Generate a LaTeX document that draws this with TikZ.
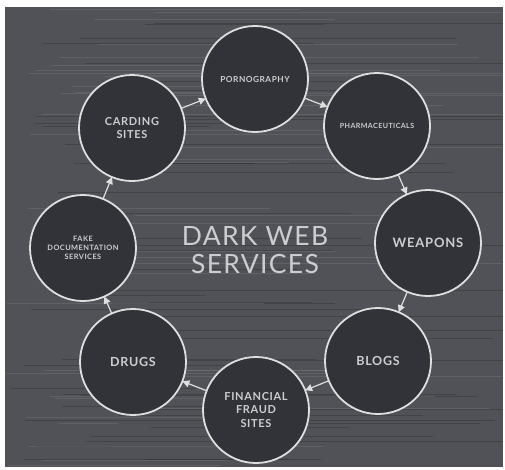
\documentclass[tikz,border=0pt]{standalone}
\usepackage{fontspec}
\usetikzlibrary{arrows.meta}
\setmainfont{Lato}
\newfontfamily\labfont[LetterSpace=6]{Lato}
\newfontfamily\titlefont[LetterSpace=5]{Lato}
\definecolor{bgcol}{RGB}{80,82,88}
\definecolor{circfill}{RGB}{50,51,56}
\definecolor{ringcol}{RGB}{222,222,222}
\definecolor{txtcol}{RGB}{205,205,208}
\tikzset{
  svc/.style={circle, draw=ringcol, line width=1.8pt, fill=circfill,
    minimum size=106pt, inner sep=0pt, outer sep=0pt, text=txtcol,
    align=center, font=\labfont\bfseries},
  flow/.style={draw=ringcol, line width=1.2pt,
    -{Triangle[width=7pt,length=7pt]}},
  streak/.style={line width=0.7pt}
}
\begin{document}
\begin{tikzpicture}[x=1pt,y=-1pt]
\useasboundingbox (0,0) rectangle (505,469);
\fill[white] (0,0) rectangle (505,469);
\fill[bgcol] (5,7) rectangle (503,467);
% background streaks
\pgfmathsetseed{11}
\foreach \i in {1,...,90}{
  \pgfmathsetmacro{\yy}{9+random(0,456)}
  \pgfmathsetmacro{\xa}{5+random(0,150)}
  \pgfmathsetmacro{\xb}{\xa+random(150,500)}
  \pgfmathsetmacro{\xc}{min(\xb,503)}
  \pgfmathsetmacro{\sh}{random(0,1)}
  \ifnum\sh=0
    \draw[streak, black!60!bgcol, opacity=0.3] (\xa,\yy) -- (\xc,\yy);
  \else
    \draw[streak, white!35!bgcol, opacity=0.25] (\xa,\yy) -- (\xc,\yy);
  \fi
}
\node[svc, font=\labfont\bfseries\fontsize{8.3}{9}\selectfont] (porn) at (255,79) {PORNOGRAPHY};
\node[svc, font=\labfont\bfseries\fontsize{7.1}{8}\selectfont] (pharma) at (377,126) {PHARMACEUTICALS};
\node[svc, font=\labfont\bfseries\fontsize{13}{15}\selectfont] (weap) at (428,243) {WEAPONS};
\node[svc, font=\labfont\bfseries\fontsize{12.5}{14}\selectfont] (blogs) at (378,361) {BLOGS};
\node[svc, font=\labfont\bfseries\fontsize{11}{13.5}\selectfont] (fin) at (256,410) {FINANCIAL\\FRAUD\\SITES};
\node[svc, font=\labfont\bfseries\fontsize{12.5}{14}\selectfont] (drugs) at (133,362) {DRUGS};
\node[svc, font=\labfont\bfseries\fontsize{7.4}{9}\selectfont] (fake) at (83,248) {FAKE\\DOCUMENTATION\\SERVICES};
\node[svc, font=\labfont\bfseries\fontsize{11}{13}\selectfont] (card) at (132,128) {CARDING\\SITES};
\draw[flow] (porn) -- (pharma);
\draw[flow] (pharma) -- (weap);
\draw[flow] (weap) -- (blogs);
\draw[flow] (blogs) -- (fin);
\draw[flow] (fin) -- (drugs);
\draw[flow] (drugs) -- (fake);
\draw[flow] (fake) -- (card);
\draw[flow] (card) -- (porn);
\node[text=txtcol, font=\titlefont\fontsize{26.5}{28}\selectfont, align=center, inner sep=0pt] (title) at (255,250) {DARK WEB\\SERVICES};
\end{tikzpicture}
\end{document}
